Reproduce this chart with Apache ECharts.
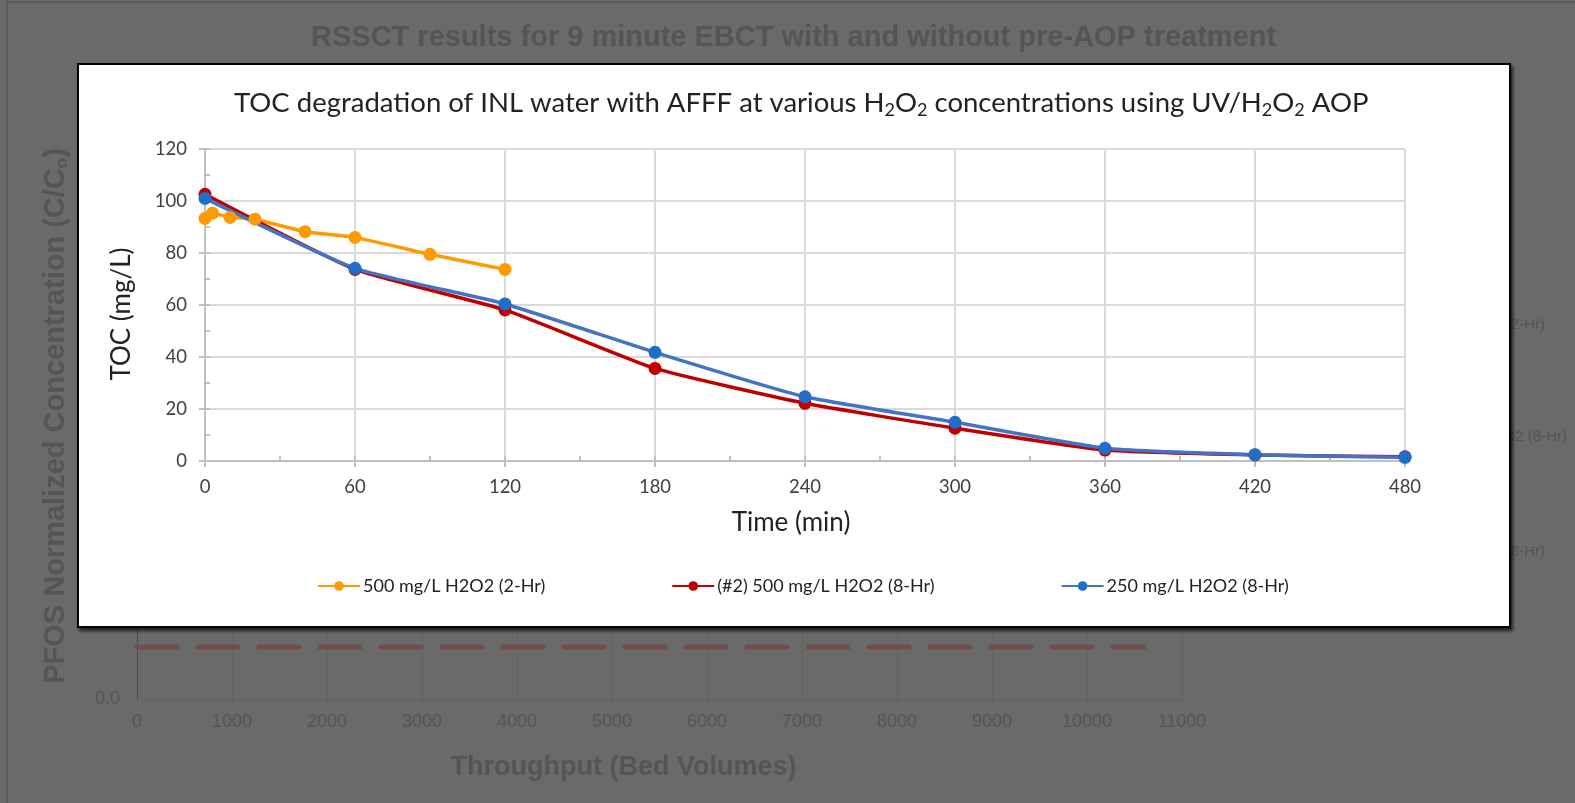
<!DOCTYPE html>
<html lang="en">
<head>
<meta charset="UTF-8">
<title>TOC degradation</title>
<script src="https://cdn.jsdelivr.net/npm/echarts@6/dist/echarts.min.js"></script>
<style>
    html, body { margin: 0; padding: 0; width: 100%; height: 100%; background: #6a6a6a; overflow: hidden; }
    #bg { position: absolute; left: 0; top: 0; width: 1575px; height: 803px; }
    #box {
        position: absolute; left: 77px; top: 63px; width: 1434px; height: 565px;
        background: #fff; border: 2px solid #000; box-sizing: border-box;
        box-shadow: 2px 3px 3px rgba(0, 0, 0, 0.7);
    }
    #toc { width: 1430px; height: 561px; }
</style>
</head>
<body>
<div id="bg"></div>
<div id="box"><div id="toc"></div></div>
<script>
// dimmed chart behind the popup
var bgTitle = 'RSSCT results for 9 minute EBCT with and without pre-AOP treatment';
var bgLimitLine = [[0, 0.11], [10600, 0.11]];
var bgLegendTails = ['500 mg/L H2O2 (2-Hr)', '(#2) 500 mg/L H2O2 (8-Hr)', '250 mg/L H2O2 (8-Hr)'];

// TOC data
var times2h = [0, 3, 10, 20, 40, 60, 90, 120];
var toc500_2h = [93.3, 95.3, 93.7, 93.0, 88.2, 86.0, 79.5, 73.7];
var times8h = [0, 60, 120, 180, 240, 300, 360, 420, 480];
var toc500_8h = [102.6, 73.7, 58.1, 35.6, 22.2, 12.6, 4.2, 2.3, 1.6];
var toc250_8h = [101.0, 74.1, 60.4, 41.8, 24.7, 14.9, 4.9, 2.4, 1.4];
var seriesNames = ['500 mg/L H2O2 (2-Hr)', '(#2) 500 mg/L H2O2 (8-Hr)', '250 mg/L H2O2 (8-Hr)'];

function pairs(xs, ys) {
    return xs.map(function (x, i) { return [x, ys[i]]; });
}

var dim = '#555555';
var bgChart = echarts.init(document.getElementById('bg'));
bgChart.setOption({
    animation: false,
    backgroundColor: '#6a6a6a',
    title: {
        text: bgTitle,
        left: 306,
        top: 18,
        textStyle: { fontFamily: 'Liberation Sans', fontWeight: 'bold', fontSize: 29, color: dim }
    },
    grid: { left: 137, right: 393, top: 133, bottom: 104 },
    xAxis: {
        type: 'value', min: 0, max: 11000, interval: 1000,
        name: 'Throughput (Bed Volumes)', nameLocation: 'middle', nameGap: 55,
        nameTextStyle: { fontFamily: 'Liberation Sans', fontWeight: 'bold', fontSize: 27, color: dim,
            padding: [0, 72, 0, 0] },
        axisLine: { lineStyle: { color: '#626262', width: 1 } },
        axisTick: { length: 4, lineStyle: { color: '#626262' } },
        minorTick: { show: true, splitNumber: 4, length: 3, lineStyle: { color: '#626262' } },
        axisLabel: { margin: 14, fontFamily: 'Liberation Sans', fontSize: 18, color: dim,
            formatter: function (v) { return String(v); } },
        splitLine: { lineStyle: { color: '#636363', width: 1 } }
    },
    yAxis: {
        type: 'value', min: 0, max: 1.2, interval: 0.2,
        name: 'PFOS Normalized Concentration (C/C{sub|o})', nameLocation: 'middle', nameRotate: 90, nameGap: 66,
        nameTextStyle: {
            fontFamily: 'Liberation Sans', fontWeight: 'bold', fontSize: 29, color: dim,
            rich: { sub: { fontFamily: 'Liberation Sans', fontWeight: 'bold', fontSize: 17, color: dim, padding: [14, 0, 0, 0] } }
        },
        axisLine: { show: true, lineStyle: { color: '#4c4c4c', width: 1 } },
        axisTick: { show: false },
        axisLabel: { margin: 17, fontFamily: 'Liberation Sans', fontSize: 18, color: dim,
            formatter: function (v) { return v.toFixed(1); } },
        splitLine: { show: false }
    },
    series: [{
        type: 'line',
        data: bgLimitLine,
        symbol: 'none',
        lineStyle: { color: '#744c4c', width: 5, type: [40, 21], cap: 'round' }
    }],
    graphic: [
        { type: 'rect', shape: { x: 7, y: 2, width: 1620, height: 900 },
          style: { fill: null, stroke: '#5a5a5a', lineWidth: 2 }, silent: true },
        { type: 'text', x: 1545, y: 325, style: { text: bgLegendTails[0], align: 'right', verticalAlign: 'middle',
          font: '15px "Liberation Sans"', fill: dim } },
        { type: 'text', x: 1567, y: 437, style: { text: bgLegendTails[1], align: 'right', verticalAlign: 'middle',
          font: '15px "Liberation Sans"', fill: dim } },
        { type: 'text', x: 1545, y: 552, style: { text: bgLegendTails[2], align: 'right', verticalAlign: 'middle',
          font: '15px "Liberation Sans"', fill: dim } }
    ]
});

// the TOC chart in the white box
var font = 'Lato';
var ink = '#404040';
var gridGray = '#d9d9d9';
var axisGray = '#bfbfbf';
var tocChart = echarts.init(document.getElementById('toc'));
tocChart.setOption({
    animation: false,
    backgroundColor: '#fff',
    title: {
        text: 'TOC degradation of INL water with AFFF at various H{sub|2}O{sub|2} concentrations using UV/H{sub|2}O{sub|2} AOP',
        left: 150,
        top: 17,
        textStyle: {
            fontFamily: font, fontSize: 27.5, color: '#222', fontWeight: 'normal',
            rich: { sub: { fontFamily: font, fontSize: 18, color: '#222', padding: [14, 0, 0, 0] } }
        }
    },
    legend: {
        left: 233, top: 507,
        itemWidth: 42, itemHeight: 12, itemGap: 126,
        textStyle: { fontFamily: font, fontSize: 18, color: '#222', padding: [0, 0, 0, -2] },
        data: seriesNames
    },
    grid: { left: 126, right: 104, top: 84, bottom: 165 },
    xAxis: [{
        type: 'value', min: 0, max: 480, interval: 60,
        name: 'Time (min)', nameLocation: 'middle', nameGap: 49,
        nameTextStyle: { fontFamily: font, fontSize: 26, color: '#222', padding: [0, 28, 0, 0] },
        axisLine: { lineStyle: { color: axisGray, width: 2 } },
        axisTick: { length: 6, lineStyle: { color: axisGray, width: 2 } },
        axisLabel: { margin: 17, fontFamily: font, fontSize: 18.5, color: ink },
        splitLine: { lineStyle: { color: gridGray, width: 2 } }
    }, {
        type: 'value', min: 0, max: 480, interval: 30, position: 'bottom',
        axisLine: { show: false },
        axisTick: { inside: true, length: 5, lineStyle: { color: axisGray, width: 2 } },
        axisLabel: { show: false },
        splitLine: { show: false }
    }],
    yAxis: [{
        type: 'value', min: 0, max: 120, interval: 20,
        name: 'TOC (mg/L)', nameLocation: 'middle', nameRotate: 90, nameGap: 70,
        nameTextStyle: { fontFamily: font, fontSize: 26, color: '#222', padding: [0, 18, 0, 0] },
        axisLine: { show: true, lineStyle: { color: axisGray, width: 2 } },
        axisTick: { show: true, length: 6, lineStyle: { color: axisGray, width: 2 } },
        axisLabel: { margin: 18, fontFamily: font, fontSize: 18.5, color: ink },
        splitLine: { lineStyle: { color: gridGray, width: 2 } }
    }, {
        type: 'value', min: 0, max: 120, interval: 10, position: 'left',
        axisLine: { show: false },
        axisTick: { show: true, inside: true, length: 5, lineStyle: { color: axisGray, width: 2 } },
        axisLabel: { show: false },
        splitLine: { show: false }
    }],
    series: [{
        name: seriesNames[0], type: 'line', data: pairs(times2h, toc500_2h),
        symbol: 'circle', symbolSize: 13, smooth: 0.15,
        lineStyle: { color: '#ff9a00', width: 3.5 },
        itemStyle: { color: '#ff9a00' }
    }, {
        name: seriesNames[1], type: 'line', data: pairs(times8h, toc500_8h),
        symbol: 'circle', symbolSize: 13, smooth: 0.15,
        lineStyle: { color: '#c00000', width: 3.5 },
        itemStyle: { color: '#c00000' }
    }, {
        name: seriesNames[2], type: 'line', data: pairs(times8h, toc250_8h),
        symbol: 'circle', symbolSize: 13, smooth: 0.15,
        lineStyle: { color: '#4472c4', width: 3.5 },
        itemStyle: { color: '#1f6fc9' }
    }]
});
</script>
</body>
</html>
